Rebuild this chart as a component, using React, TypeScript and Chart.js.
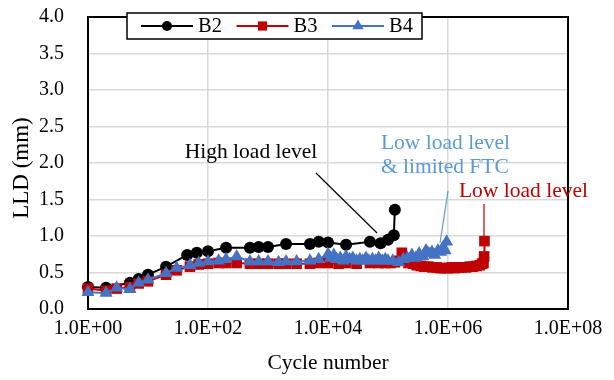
import React, { useEffect, useRef } from 'react';
import { Chart, registerables } from 'chart.js';

Chart.register(...registerables);

const FONT = "'Liberation Serif', 'Times New Roman', serif";

const xTickValues = [1, 1e2, 1e4, 1e6, 1e8];
const xTickLabels = ['1.0E+00', '1.0E+02', '1.0E+04', '1.0E+06', '1.0E+08'];
const yTickValues = [0, 0.5, 1, 1.5, 2, 2.5, 3, 3.5, 4];
const yTickLabels = ['0.0', '0.5', '1.0', '1.5', '2.0', '2.5', '3.0', '3.5', '4.0'];
const xTitle = 'Cycle number';
const yTitle = 'LLD (mm)';

const seriesNames = ['B2', 'B3', 'B4'];
const seriesColors = ['#000000', '#C00000', '#4472C4'];
const seriesMarkers = ['circle', 'rect', 'triangle'];

const b2Cycles = [1, 2, 5, 7, 10, 20, 45, 65, 100, 200, 500, 700, 1000, 2000, 5000, 7000, 10000, 20000, 50000, 75000, 100000, 125000, 130000];
const b2LLD = [0.30, 0.29, 0.36, 0.41, 0.47, 0.58, 0.74, 0.77, 0.79, 0.84, 0.84, 0.85, 0.85, 0.89, 0.89, 0.92, 0.91, 0.88, 0.92, 0.90, 0.95, 1.01, 1.36];

const b3Cycles = [1, 2, 3, 5, 7, 10, 20, 30, 50, 70, 100, 150, 200, 300, 500, 700, 1000, 1500, 2000, 3000, 5000, 7000, 10000, 15000, 20000, 30000, 50000, 70000, 90000, 110000, 130000, 150000, 170000, 190000, 220000, 260000, 300000, 350000, 400000, 470000, 550000, 650000, 750000, 870000, 1000000, 1150000, 1300000, 1500000, 1700000, 2000000, 2300000, 2600000, 3000000, 3400000, 3700000, 3900000, 4000000, 4050000];
const b3LLD = [0.28, 0.25, 0.28, 0.30, 0.35, 0.38, 0.47, 0.53, 0.58, 0.61, 0.62, 0.63, 0.63, 0.63, 0.62, 0.62, 0.62, 0.62, 0.62, 0.62, 0.62, 0.63, 0.63, 0.62, 0.63, 0.62, 0.63, 0.63, 0.63, 0.63, 0.64, 0.66, 0.77, 0.66, 0.63, 0.62, 0.60, 0.59, 0.58, 0.58, 0.57, 0.57, 0.56, 0.56, 0.56, 0.57, 0.56, 0.57, 0.57, 0.57, 0.58, 0.58, 0.59, 0.60, 0.62, 0.63, 0.72, 0.93];

const b4Cycles = [1, 2, 3, 5, 7, 10, 20, 30, 50, 70, 100, 150, 200, 300, 500, 700, 1000, 1500, 2000, 3000, 5000, 7000, 10000, 11000, 12500, 14000, 16000, 18000, 20000, 23000, 26000, 30000, 34000, 38000, 43000, 48000, 55000, 62000, 70000, 80000, 90000, 100000, 120000, 150000, 180000, 210000, 250000, 290000, 330000, 380000, 430000, 480000, 540000, 600000, 680000, 750000, 820000, 900000, 950000];
const b4LLD = [0.23, 0.22, 0.29, 0.27, 0.36, 0.40, 0.49, 0.56, 0.60, 0.63, 0.65, 0.66, 0.68, 0.72, 0.65, 0.65, 0.65, 0.64, 0.65, 0.65, 0.66, 0.68, 0.75, 0.70, 0.74, 0.68, 0.70, 0.66, 0.72, 0.68, 0.70, 0.66, 0.68, 0.66, 0.70, 0.66, 0.68, 0.66, 0.70, 0.66, 0.68, 0.66, 0.66, 0.64, 0.68, 0.70, 0.74, 0.70, 0.76, 0.72, 0.80, 0.76, 0.78, 0.74, 0.80, 0.78, 0.84, 0.80, 0.92];

const annotationTexts = [
  { lines: ['High load level'], x: Math.pow(10, 2.717), y: 2.15, color: '#000000', align: 'center' },
  { lines: ['Low load level', '& limited FTC'], x: Math.pow(10, 4.883), y: 2.274, color: '#5B9BD5', align: 'left' },
  { lines: ['Low load level'], x: Math.pow(10, 6.183), y: 1.616, color: '#C00000', align: 'left' },
];
const annotationLeaders = [
  { x1: Math.pow(10, 3.8), y1: 1.863, x2: Math.pow(10, 4.817), y2: 1.041, color: '#000000' },
  { x1: 1e6, y1: 1.616, x2: Math.pow(10, 5.867), y2: 0.904, color: '#5B9BD5' },
  { x1: Math.pow(10, 6.6), y1: 1.438, x2: Math.pow(10, 6.6), y2: 0.973, color: '#C00000' },
];

function toPoints(xs: number[], ys: number[]) {
  return xs.map((x, i) => ({ x, y: ys[i] }));
}

function drawMarker(ctx: CanvasRenderingContext2D, kind: string, x: number, y: number, r: number, color: string) {
  ctx.save();
  ctx.fillStyle = color;
  ctx.beginPath();
  if (kind === 'circle') {
    ctx.arc(x, y, r, 0, Math.PI * 2);
  } else if (kind === 'rect') {
    const s = r * Math.SQRT1_2;
    ctx.rect(x - s, y - s, 2 * s, 2 * s);
  } else {
    ctx.moveTo(x, y - r);
    ctx.lineTo(x + r * Math.sin((2 * Math.PI) / 3), y - r * Math.cos((2 * Math.PI) / 3));
    ctx.lineTo(x + r * Math.sin((4 * Math.PI) / 3), y - r * Math.cos((4 * Math.PI) / 3));
    ctx.closePath();
  }
  ctx.fill();
  ctx.restore();
}

const frameAndExtras = {
  id: 'frameAndExtras',
  beforeDatasetsDraw(chart: any) {
    const { ctx, chartArea } = chart;
    ctx.save();
    ctx.strokeStyle = '#000';
    ctx.lineWidth = 2;
    ctx.strokeRect(chartArea.left, chartArea.top, chartArea.right - chartArea.left, chartArea.bottom - chartArea.top);
    ctx.restore();
  },
  afterDraw(chart: any) {
    const { ctx, chartArea, scales } = chart;
    const xs = scales.x;
    const ys = scales.y;
    // y axis title
    ctx.save();
    ctx.translate(22, (chartArea.top + chartArea.bottom) / 2 + 5);
    ctx.rotate(-Math.PI / 2);
    ctx.font = `23px ${FONT}`;
    ctx.fillStyle = '#000';
    ctx.textAlign = 'center';
    ctx.textBaseline = 'middle';
    ctx.fillText(yTitle, 0, 0);
    ctx.restore();
    // leader lines
    annotationLeaders.forEach((l) => {
      ctx.save();
      ctx.strokeStyle = l.color;
      ctx.lineWidth = 1.2;
      ctx.beginPath();
      ctx.moveTo(xs.getPixelForValue(l.x1), ys.getPixelForValue(l.y1));
      ctx.lineTo(xs.getPixelForValue(l.x2), ys.getPixelForValue(l.y2));
      ctx.stroke();
      ctx.restore();
    });
    // annotation texts
    annotationTexts.forEach((a) => {
      ctx.save();
      ctx.font = `21.5px ${FONT}`;
      ctx.fillStyle = a.color;
      ctx.textAlign = a.align as CanvasTextAlign;
      ctx.textBaseline = 'middle';
      const px = xs.getPixelForValue(a.x);
      const py = ys.getPixelForValue(a.y);
      a.lines.forEach((t, i) => ctx.fillText(t, px, py + i * 24));
      ctx.restore();
    });
    // legend
    const lx = chartArea.left + 39;
    const ly = chartArea.top - 4;
    const lw = 295;
    const lh = 26;
    ctx.save();
    ctx.fillStyle = '#fff';
    ctx.fillRect(lx, ly, lw, lh);
    ctx.strokeStyle = '#000';
    ctx.lineWidth = 1.5;
    ctx.strokeRect(lx, ly, lw, lh);
    const cy = ly + lh / 2;
    chart.data.datasets.forEach((ds: any, i: number) => {
      const sx = lx + 14 + i * 95.5;
      ctx.strokeStyle = ds.borderColor;
      ctx.lineWidth = 2;
      ctx.beginPath();
      ctx.moveTo(sx, cy);
      ctx.lineTo(sx + 52, cy);
      ctx.stroke();
      drawMarker(ctx, ds.pointStyle, sx + 26, cy, ds.pointStyle === 'circle' ? 5 : 6.5, ds.borderColor);
      ctx.font = `20.5px ${FONT}`;
      ctx.fillStyle = '#000';
      ctx.textAlign = 'left';
      ctx.textBaseline = 'middle';
      ctx.fillText(ds.label, sx + 57, cy + 1);
    });
    ctx.restore();
  },
};

export default function App() {
  const canvasRef = useRef<HTMLCanvasElement | null>(null);

  useEffect(() => {
    if (!canvasRef.current) return;
    Chart.defaults.font.family = FONT;
    const seriesData = [toPoints(b2Cycles, b2LLD), toPoints(b3Cycles, b3LLD), toPoints(b4Cycles, b4LLD)];
    const chart = new Chart(canvasRef.current, {
      type: 'line',
      data: {
        datasets: seriesNames.map((name, i) => ({
          label: name,
          data: seriesData[i],
          borderColor: seriesColors[i],
          backgroundColor: seriesColors[i],
          pointBackgroundColor: seriesColors[i],
          pointBorderColor: seriesColors[i],
          pointBorderWidth: 0,
          pointStyle: seriesMarkers[i],
          pointRadius: i === 0 ? 6 : 7.5,
          borderWidth: 2,
          tension: 0,
          fill: false,
          clip: false as any,
          order: 3 - i,
        })),
      },
      options: {
        responsive: false,
        animation: false,
        events: [],
        layout: { padding: { top: 17, right: 46, left: 0, bottom: 0 } },
        plugins: { legend: { display: false }, tooltip: { enabled: false } },
        scales: {
          x: {
            type: 'logarithmic',
            min: 1,
            max: 1e8,
            afterBuildTicks: (s: any) => {
              s.ticks = xTickValues.map((v) => ({ value: v }));
            },
            afterFit: (s: any) => {
              s.height = 71;
              s.paddingLeft = 0;
              s.paddingRight = 0;
            },
            ticks: {
              callback: (_v: any, i: number) => xTickLabels[i],
              font: { size: 20, family: FONT },
              color: '#000',
              padding: 8,
              maxRotation: 0,
              autoSkip: false,
            },
            grid: { color: '#d9d9d9', lineWidth: 1.5, drawTicks: false },
            border: { display: false },
            title: {
              display: true,
              text: xTitle,
              font: { size: 21.5, family: FONT },
              color: '#000',
              padding: { top: 0, bottom: 4 },
            },
          },
          y: {
            type: 'linear',
            min: 0,
            max: 4,
            afterBuildTicks: (s: any) => {
              s.ticks = yTickValues.map((v) => ({ value: v }));
            },
            afterFit: (s: any) => {
              s.width = 88;
              s.paddingTop = 0;
              s.paddingBottom = 0;
            },
            ticks: {
              callback: (_v: any, i: number) => yTickLabels[i],
              font: { size: 20, family: FONT },
              color: '#000',
              padding: 24,
            },
            grid: { color: '#d9d9d9', lineWidth: 1.5, drawTicks: false },
            border: { display: false },
            title: { display: false },
          },
        },
      },
      plugins: [frameAndExtras],
    });
    return () => chart.destroy();
  }, []);

  return (
    <div style={{ position: 'fixed', left: 0, top: 0, width: 614, height: 380, background: '#fff' }}>
      <canvas ref={canvasRef} width={614} height={380} style={{ width: 614, height: 380 }} />
    </div>
  );
}
